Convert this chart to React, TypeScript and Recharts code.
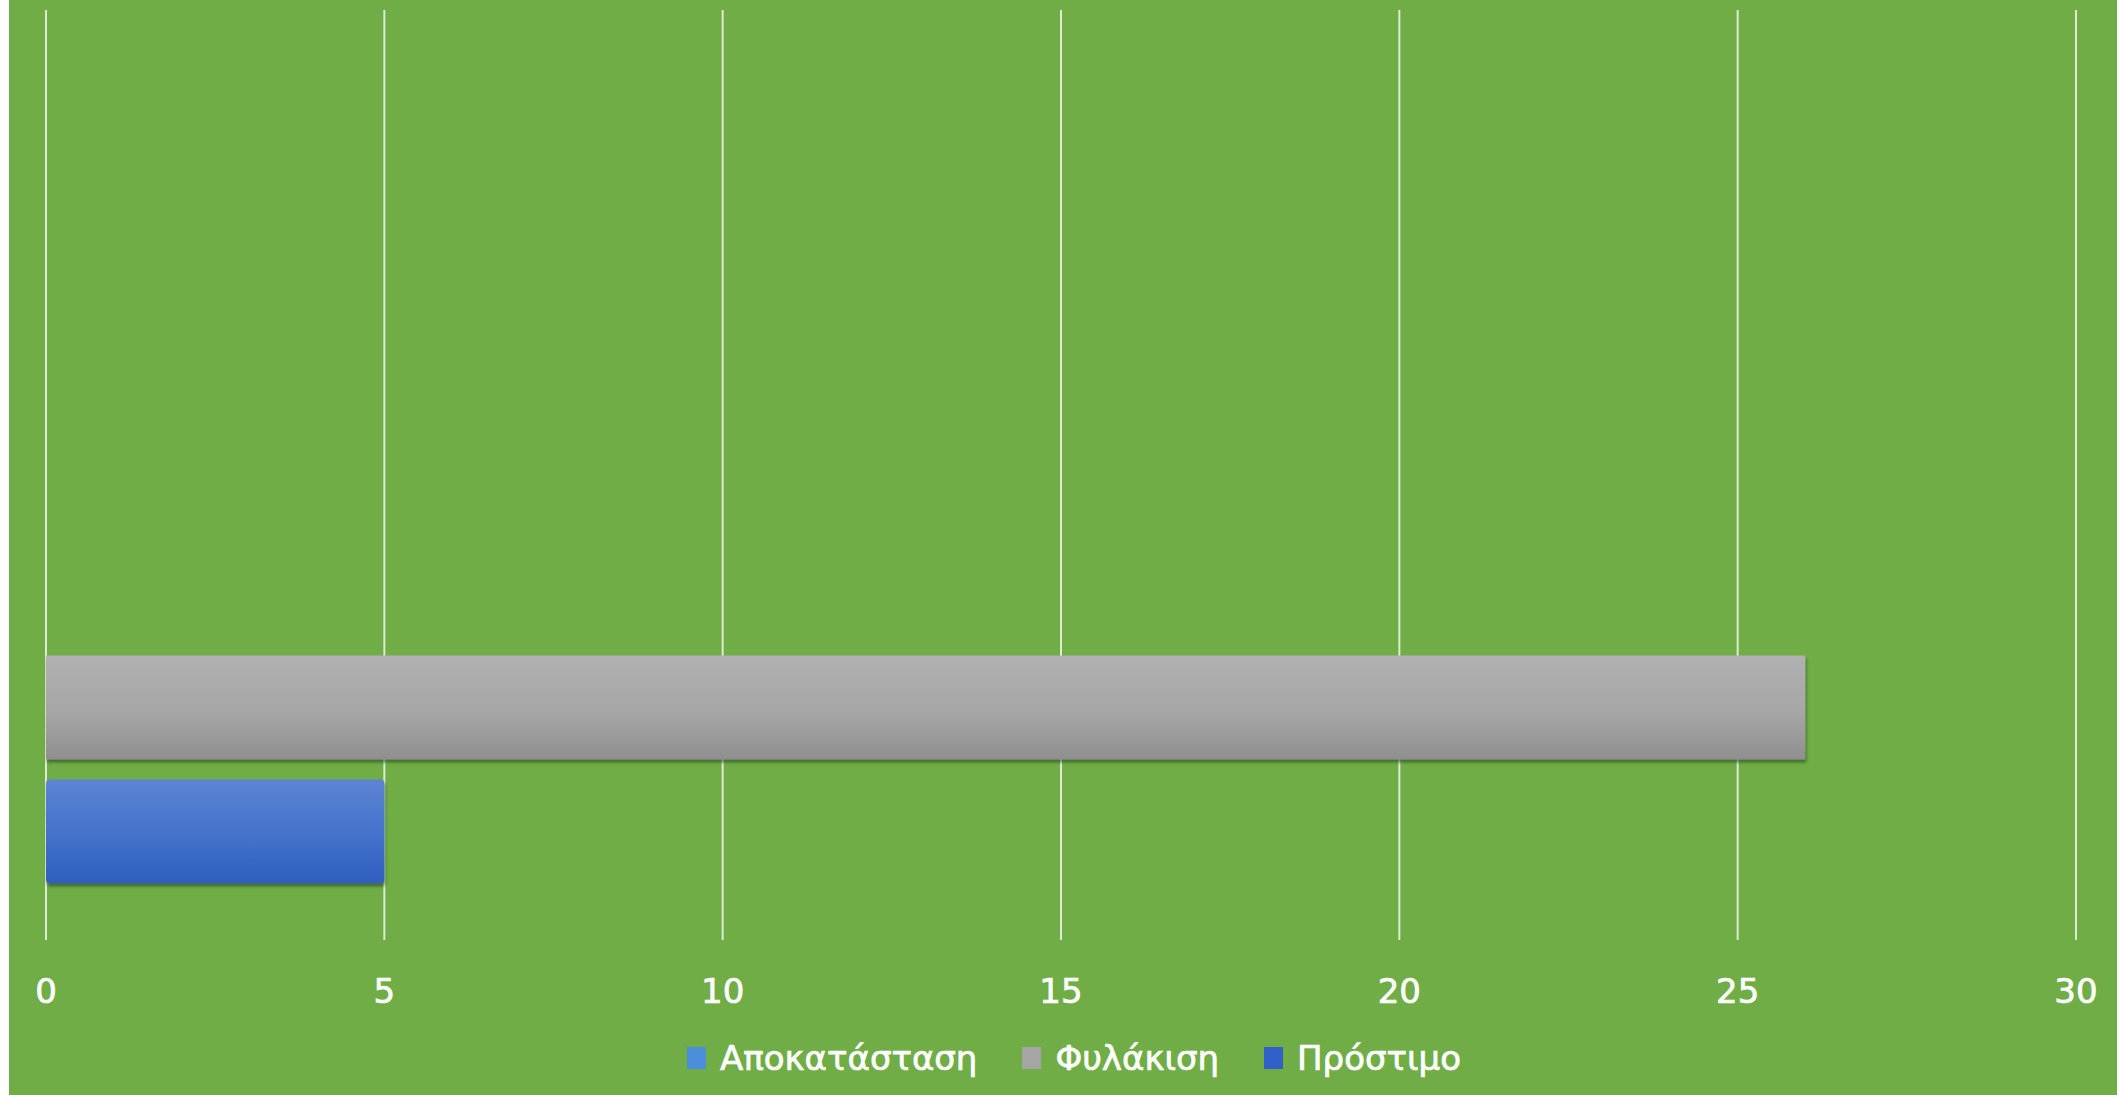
import React from 'react'
import { BarChart, Bar, XAxis, YAxis, CartesianGrid, Legend } from 'recharts'

// two category slots on the band axis: the upper one is empty in the source
const categories = ['', 'Ποινή']
const seriesNames = ['Αποκατάσταση', 'Φυλάκιση', 'Πρόστιμο']
const apokatastasi = [null, 0]
const fylakisi = [null, 26]
const prostimo = [null, 5]
const xTicks = [0, 5, 10, 15, 20, 25, 30]

const seriesKeys = ['apokatastasi', 'fylakisi', 'prostimo']
const legendColors = ['#4b8fdc', '#a5a5a5', '#3060c8']
const barFills = ['url(#gradLight)', 'url(#gradGray)', 'url(#gradBlue)']
const barRadius = [3, 0, 4]

const data = categories.map((c, i) => ({
  cat: c,
  apokatastasi: apokatastasi[i],
  fylakisi: fylakisi[i],
  prostimo: prostimo[i],
}))

const FONT = '"DejaVu Sans", Verdana, sans-serif'

function makeShape(idx: number) {
  return (p: any) => {
    if (!p.width || p.width <= 0) return <g />
    return (
      <rect
        x={p.x}
        y={p.y}
        width={p.width}
        height={p.height}
        rx={barRadius[idx]}
        ry={barRadius[idx]}
        fill={barFills[idx]}
        filter="url(#barShadow)"
      />
    )
  }
}

function LegendContent() {
  return (
    <div
      style={{
        height: 75,
        display: 'flex',
        alignItems: 'center',
        justifyContent: 'center',
        paddingLeft: 26,
        fontFamily: FONT,
        fontSize: 34,
        color: '#ffffff',
        WebkitTextStroke: '0.7px #ffffff',
      }}
    >
      {seriesNames.map((name, i) => (
        <div key={name} style={{ display: 'flex', alignItems: 'center', marginRight: i < 2 ? 45 : 0 }}>
          <span style={{ width: 19, height: 22, background: legendColors[i], marginRight: 14, display: 'inline-block' }} />
          <span>{name}</span>
        </div>
      ))}
    </div>
  )
}

export default function App() {
  return (
    <div style={{ position: 'absolute', left: 0, top: 0, width: 2121, height: 1095, background: '#ffffff' }}>
      <div style={{ position: 'absolute', left: 9, top: 0, width: 2108, height: 1095, background: '#70ad47' }}>
        <BarChart
          width={2108}
          height={1095}
          data={data}
          layout="vertical"
          margin={{ top: 10, right: 41, left: 37, bottom: 0 }}
          barCategoryGap="12.15%"
          barGap={20}
        >
          <defs>
            <linearGradient id="gradGray" x1="0" y1="0" x2="0" y2="1">
              <stop offset="0%" stopColor="#b1b1b1" />
              <stop offset="55%" stopColor="#a6a6a6" />
              <stop offset="100%" stopColor="#8f8f8f" />
            </linearGradient>
            <linearGradient id="gradBlue" x1="0" y1="0" x2="0" y2="1">
              <stop offset="0%" stopColor="#5c84d2" />
              <stop offset="55%" stopColor="#4371cb" />
              <stop offset="100%" stopColor="#2f5fbf" />
            </linearGradient>
            <linearGradient id="gradLight" x1="0" y1="0" x2="0" y2="1">
              <stop offset="0%" stopColor="#6aa6e6" />
              <stop offset="100%" stopColor="#3f84d6" />
            </linearGradient>
            <filter id="barShadow" x="-5%" y="-20%" width="110%" height="150%">
              <feDropShadow dx="1" dy="3" stdDeviation="1.5" floodColor="#1f3a10" floodOpacity="0.55" />
            </filter>
          </defs>
          <CartesianGrid horizontal={false} stroke="#dcebd2" strokeWidth={2} />
          <XAxis
            type="number"
            domain={[0, 30]}
            ticks={xTicks}
            interval={0}
            axisLine={false}
            tickLine={false}
            tickSize={0}
            tickMargin={39}
            height={80}
            tick={{ fill: '#ffffff', stroke: '#ffffff', strokeWidth: 0.7, fontSize: 34, fontFamily: FONT }}
          />
          <YAxis type="category" dataKey="cat" hide />
          <Legend verticalAlign="bottom" height={75} wrapperStyle={{ height: 75 }} content={<LegendContent />} />
          {seriesKeys.map((k, i) => (
            <Bar
              key={k}
              dataKey={k}
              name={seriesNames[i]}
              fill={legendColors[i]}
              shape={makeShape(i)}
              isAnimationActive={false}
            />
          ))}
        </BarChart>
      </div>
    </div>
  )
}
